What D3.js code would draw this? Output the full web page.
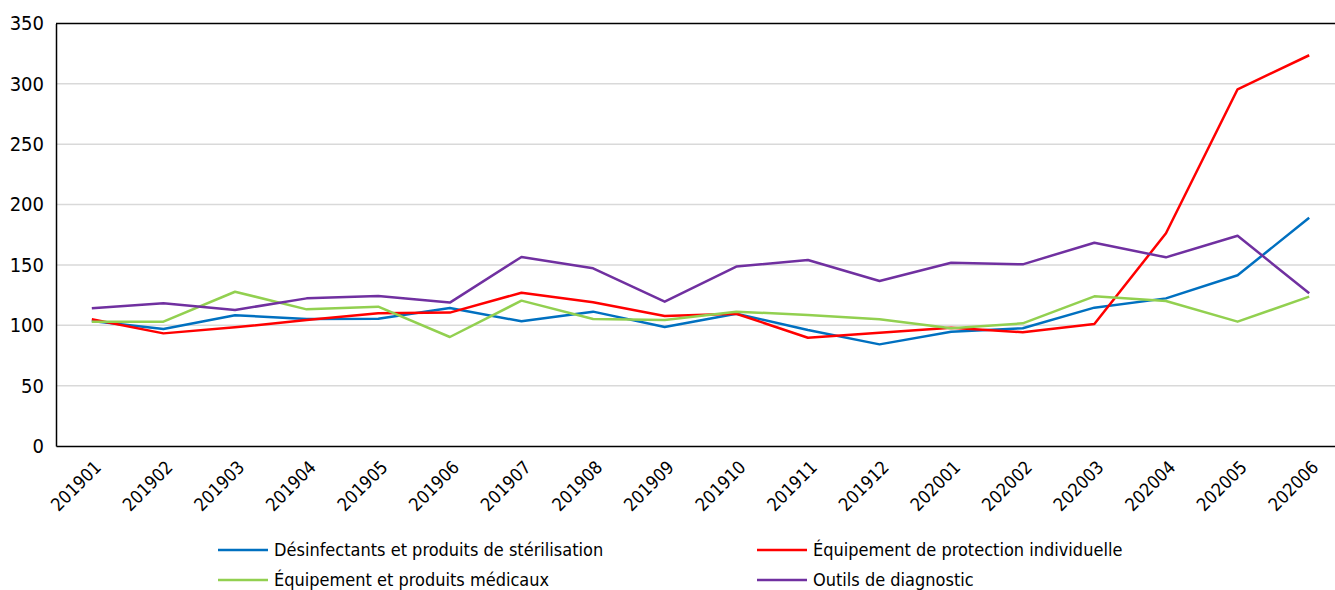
<!DOCTYPE html>
<html>
<head>
<meta charset="utf-8">
<script src="https://cdn.jsdelivr.net/npm/d3@7"></script>
<style>
  body { margin: 0; background: #fff; }
  svg { display: block; }
  text { font-family: "Liberation Sans Narrow", "DejaVu Sans Condensed", sans-serif; fill: #000; }
</style>
</head>
<body>
<svg></svg>
<script>
var width = 1335;
var height = 590;

var months = ['201901','201902','201903','201904','201905','201906','201907','201908','201909',
              '201910','201911','201912','202001','202002','202003','202004','202005','202006'];

var desinfectants = [103.6, 97, 108.3, 105.2, 105.5, 114.3, 103.3, 111.3, 98.6, 109.6, 96.1, 84.2, 94.7, 97.5, 114.6, 122.3, 141.4, 189.1];
var protection    = [105, 93.3, 98.3, 104.4, 109.9, 110.5, 127, 119, 107.7, 109.6, 89.7, 93.9, 98, 94.2, 101.1, 176.2, 295.5, 323.7];
var medicaux      = [103, 103, 127.8, 113.2, 115.4, 90.3, 120.4, 105.2, 104.4, 111.3, 108.5, 105, 97.5, 101.6, 124, 120.1, 103, 123.7];
var diagnostic    = [114.1, 118.2, 112.7, 122.3, 124.3, 118.8, 156.6, 147.2, 119.6, 148.6, 154.1, 136.7, 151.8, 150.5, 168.4, 156.3, 174.2, 126.5];

var yTicks = [0, 50, 100, 150, 200, 250, 300, 350];

var series = [
  { name: 'Désinfectants et produits de stérilisation', values: desinfectants, color: '#0070c0' },
  { name: 'Équipement de protection individuelle', values: protection, color: '#ff0000' },
  { name: 'Équipement et produits médicaux', values: medicaux, color: '#92d050' },
  { name: 'Outils de diagnostic', values: diagnostic, color: '#7030a0' }
];

var plotLeft = 56, plotTop = 23.5, plotBottom = 446, plotRight = 1345;

var svg = d3.select('svg')
    .attr('width', width)
    .attr('height', height);

var xScale = d3.scaleBand()
    .domain(months)
    .range([plotLeft, plotRight]);

var yScale = d3.scaleLinear()
    .domain([0, 350])
    .range([plotBottom, plotTop]);

var cx = d => xScale(d) + xScale.bandwidth() / 2;

// grid
svg.append('g')
  .selectAll('line')
  .data(yTicks.filter(d => d > 0 && d < 350))
  .enter()
  .append('line')
    .attr('x1', plotLeft)
    .attr('x2', plotRight)
    .attr('y1', d => yScale(d))
    .attr('y2', d => yScale(d))
    .attr('stroke', '#d9d9d9')
    .attr('stroke-width', 1.5);

// top border
svg.append('line')
  .attr('x1', plotLeft).attr('x2', plotRight)
  .attr('y1', plotTop).attr('y2', plotTop)
  .attr('stroke', '#000').attr('stroke-width', 1.5);

var yAxis = svg.append('g')
    .attr('transform', 'translate(' + plotLeft + ',0)')
    .call(d3.axisLeft(yScale).tickValues(yTicks).tickSize(0).tickPadding(12));
yAxis.select('.domain').attr('stroke', '#000').attr('stroke-width', 1.5);
yAxis.selectAll('text').style('font-size', '20px');

var xAxis = svg.append('g')
    .attr('transform', 'translate(0,' + plotBottom + ')')
    .call(d3.axisBottom(xScale).tickSize(0));
xAxis.select('.domain').attr('stroke', '#000').attr('stroke-width', 1.5);
xAxis.selectAll('text')
    .style('font-size', '18px')
    .attr('text-anchor', 'end')
    .attr('x', 0)
    .attr('y', 0)
    .attr('dy', '0.35em')
    .attr('transform', 'translate(6,18) rotate(-45)');

var line = d3.line()
    .x((d, i) => cx(months[i]))
    .y(d => yScale(d));

svg.append('g')
  .selectAll('path')
  .data(series)
  .enter()
  .append('path')
    .attr('d', d => line(d.values))
    .attr('fill', 'none')
    .attr('stroke', d => d.color)
    .attr('stroke-width', 2.5)
    .attr('stroke-linejoin', 'round');

// legend
var legendPos = [[218, 550], [757, 550], [218, 580], [757, 580]];

var legend = svg.append('g')
  .selectAll('.legend')
  .data(series)
  .enter()
  .append('g')
    .attr('transform', (d, i) => 'translate(' + legendPos[i][0] + ',' + legendPos[i][1] + ')');

legend.append('line')
    .attr('x1', 0).attr('x2', 50)
    .attr('stroke', d => d.color)
    .attr('stroke-width', 2.5);

legend.append('text')
    .attr('x', 56)
    .attr('dy', '0.35em')
    .style('font-size', '18px')
    .text(d => d.name);
</script>
</body>
</html>
